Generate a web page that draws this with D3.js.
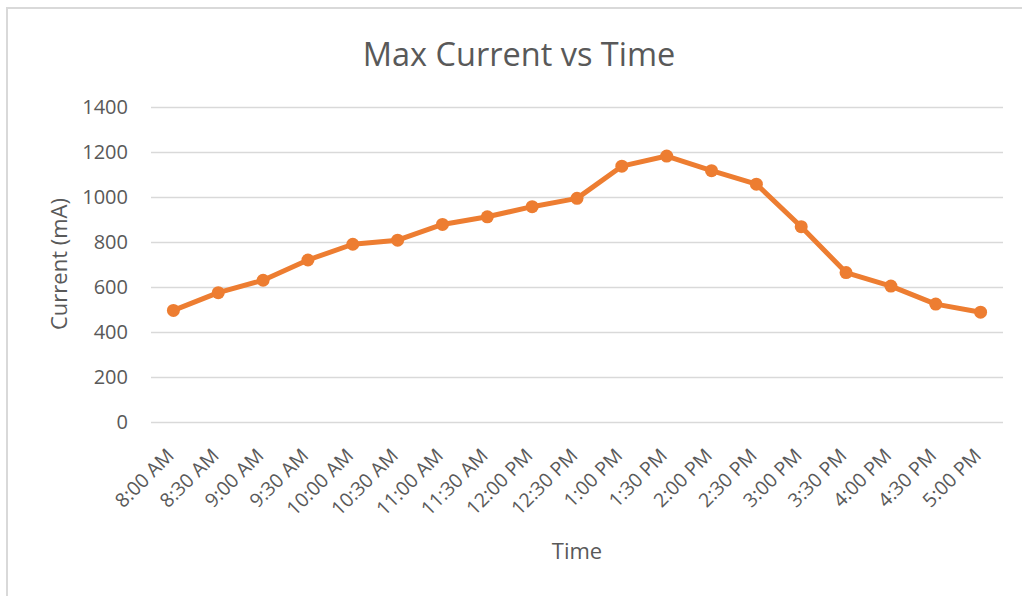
<!DOCTYPE html>
<html>
<head>
<meta charset="utf-8">
<script src="https://cdn.jsdelivr.net/npm/d3@7"></script>
<style>
  html, body { margin: 0; padding: 0; background: #fff; }
  svg { display: block; }
  text { font-family: "Open Sans", "DejaVu Sans", sans-serif; fill: #595959; }
</style>
</head>
<body>
<svg id="chart" width="1022" height="596"></svg>
<script>
// Half-hourly readings of the maximum current draw
const times = ["8:00 AM", "8:30 AM", "9:00 AM", "9:30 AM", "10:00 AM", "10:30 AM",
  "11:00 AM", "11:30 AM", "12:00 PM", "12:30 PM", "1:00 PM", "1:30 PM", "2:00 PM",
  "2:30 PM", "3:00 PM", "3:30 PM", "4:00 PM", "4:30 PM", "5:00 PM"];
const currentMA = [496, 575, 630, 720, 790, 808, 878, 912, 957, 994,
  1137, 1182, 1117, 1057, 868, 664, 604, 524, 488];
const yTicks = [0, 200, 400, 600, 800, 1000, 1200, 1400];

const title = "Max Current vs Time";
const xTitle = "Time";
const yTitle = "Current (mA)";

const svg = d3.select("#chart");
const W = 1022, H = 596;
const plot = { left: 151, right: 1003, top: 107, bottom: 422 };
const orange = "#ED7D31";
const gridColor = "#d9d9d9";

// chart frame (only top and left edges fall inside the view)
svg.append("rect")
  .attr("x", 7).attr("y", 8)
  .attr("width", W + 20).attr("height", H + 20)
  .attr("fill", "#fff")
  .attr("stroke", gridColor).attr("stroke-width", 2);

const x = d3.scaleBand().domain(times).range([plot.left, plot.right]);
const y = d3.scaleLinear().domain([0, 1400]).range([plot.bottom, plot.top]);

// horizontal gridlines with value labels
const yAxis = d3.axisLeft(y)
  .tickValues(yTicks)
  .tickFormat(d3.format("d"))
  .tickSize(-(plot.right - plot.left))
  .tickPadding(23);
const gy = svg.append("g").attr("transform", `translate(${plot.left},0)`).call(yAxis);
gy.select(".domain").remove();
gy.selectAll(".tick line").attr("stroke", gridColor).attr("stroke-width", 1.5);
gy.selectAll(".tick text")
  .attr("font-size", 20)
  .attr("font-family", "'Open Sans', sans-serif")
  .attr("fill", "#595959");

// category labels, slanted
const xAxis = d3.axisBottom(x).tickSize(0).tickPadding(0);
const gx = svg.append("g").attr("transform", `translate(0,${plot.bottom})`).call(xAxis);
gx.select(".domain").remove();
gx.selectAll(".tick text")
  .attr("font-size", 19.5)
  .attr("font-family", "'Open Sans', sans-serif")
  .attr("fill", "#595959")
  .attr("text-anchor", "end")
  .attr("dy", "0.35em")
  .attr("transform", "translate(-3,30) rotate(-45)");

// the data line
const line = d3.line()
  .x((d, i) => x(times[i]) + x.bandwidth() / 2)
  .y(d => y(d));

svg.append("path")
  .datum(currentMA)
  .attr("d", line)
  .attr("fill", "none")
  .attr("stroke", orange)
  .attr("stroke-width", 5)
  .attr("stroke-linejoin", "round");

svg.append("g").selectAll("circle")
  .data(currentMA)
  .join("circle")
  .attr("cx", (d, i) => x(times[i]) + x.bandwidth() / 2)
  .attr("cy", d => y(d))
  .attr("r", 6.5)
  .attr("fill", orange);

// titles
svg.append("text")
  .attr("x", 519).attr("y", 66)
  .attr("text-anchor", "middle")
  .attr("font-size", 32.5)
  .text(title);

svg.append("text")
  .attr("x", 577).attr("y", 559)
  .attr("text-anchor", "middle")
  .attr("font-size", 22)
  .text(xTitle);

svg.append("text")
  .attr("transform", "translate(67,264) rotate(-90)")
  .attr("text-anchor", "middle")
  .attr("font-size", 22)
  .text(yTitle);
</script>
</body>
</html>
